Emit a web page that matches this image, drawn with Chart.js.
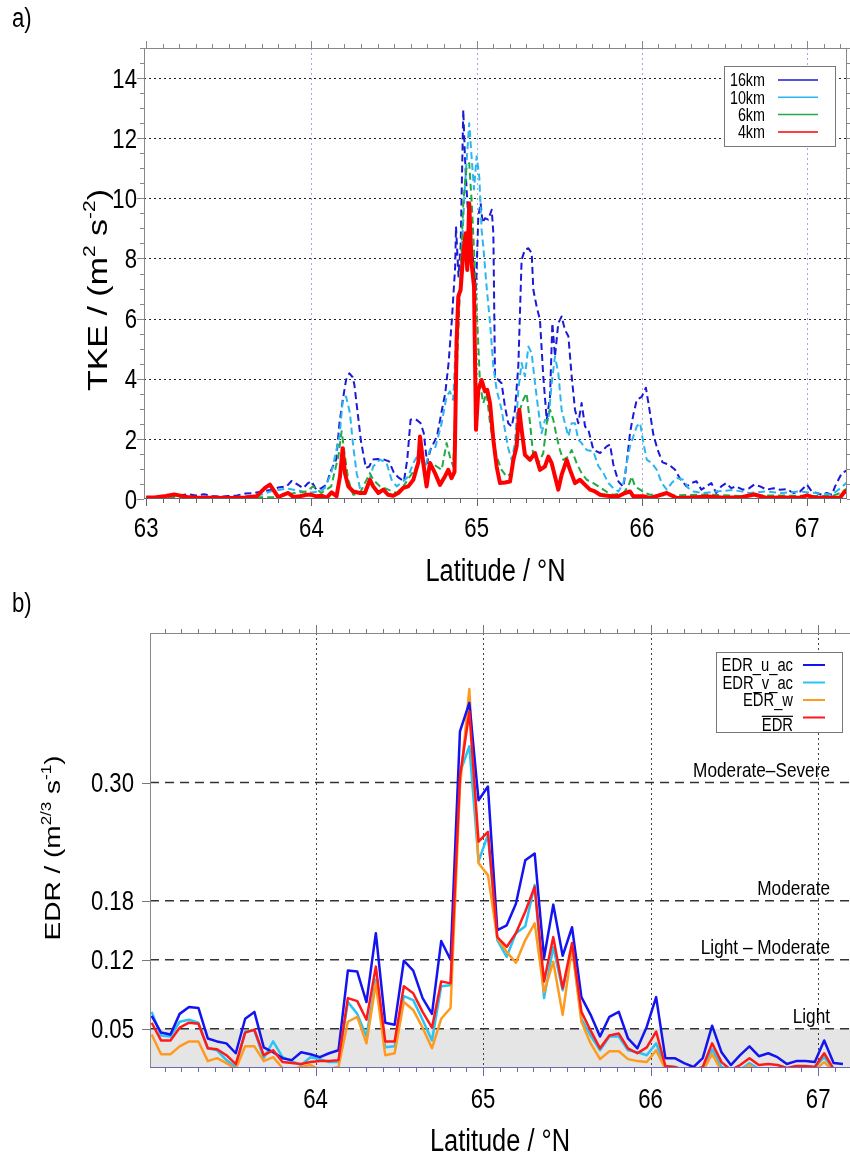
<!DOCTYPE html>
<html>
<head>
<meta charset="utf-8">
<script src="https://cdn.jsdelivr.net/npm/chart.js@4.4.0/dist/chart.umd.min.js"></script>
<style>
  body { margin: 0; background: #fff; }
  #wrap { position: relative; width: 850px; height: 1155px; }
  canvas { position: absolute; left: 0; }
  #chartA { top: 0; }
  #chartB { top: 590px; }
  .panel { position: absolute; left: 12px; font: 27px 'Liberation Sans', sans-serif; color: #000;
           transform: scale(0.82, 1); transform-origin: left top; }
</style>
</head>
<body>
<div id="wrap">
  <canvas id="chartA" width="850" height="590"></canvas>
  <canvas id="chartB" width="850" height="565"></canvas>
  <div class="panel" style="top:3px">a)</div>
  <div class="panel" style="top:588px">b)</div>
</div>
<script>
const FONT = "'Liberation Sans', Arial, sans-serif";
const SQ = 0.82; // the figure text is narrow, squeeze glyphs across

// ---- a) TKE along the flight track, one series per filter length
const lat16 = [63.00,63.10,63.20,63.25,63.30,63.35,63.40,63.45,63.50,63.55,63.60,63.65,63.70,63.75,63.80,63.85,63.88,63.92,63.95,63.98,
  64.00,64.03,64.06,64.09,64.12,64.15,64.17,64.19,64.21,64.23,64.25,64.26,64.28,64.30,64.33,64.35,64.37,64.40,64.44,64.47,
  64.50,64.53,64.56,64.58,64.60,64.63,64.66,64.68,64.70,64.72,64.76,64.79,64.81,64.83,64.85,64.87,64.875,64.89,64.903,64.919,
  64.929,64.939,64.949,64.963,64.980,64.996,65.010,65.024,65.036,65.050,65.070,65.091,65.101,65.111,65.131,65.151,65.171,65.191,65.212,65.232,
  65.252,65.272,65.292,65.313,65.333,65.343,65.363,65.383,65.403,65.424,65.444,65.458,65.474,65.494,65.514,65.534,65.555,65.575,65.595,65.615,
  65.635,65.656,65.676,65.706,65.747,65.787,65.807,65.827,65.858,65.888,65.908,65.928,65.948,65.969,65.999,66.024,66.045,66.069,66.095,66.125,
  66.165,66.201,66.231,66.27,66.30,66.33,66.36,66.39,66.42,66.45,66.48,66.51,66.54,66.57,66.61,66.65,66.68,66.715,66.755,66.796,
  66.836,66.877,66.917,66.957,66.998,67.028,67.058,67.088,67.118,67.149,67.169,67.189,67.21,67.24];
const tke16 = [0.05,0.08,0.12,0.16,0.12,0.16,0.10,0.08,0.10,0.12,0.18,0.20,0.25,0.30,0.38,0.42,0.60,0.47,0.36,0.53,
  0.59,0.31,0.36,0.47,0.97,1.31,2.53,3.30,3.97,4.18,4.05,3.80,2.86,1.92,1.03,1.08,1.31,1.33,1.31,1.25,
  0.86,0.70,0.59,1.31,2.64,2.66,2.53,2.19,1.20,1.64,2.08,2.97,3.52,4.52,5.96,7.73,9.06,7.40,8.40,12.94,
  11.40,10.30,9.40,8.73,7.85,6.96,9.40,9.84,9.18,9.34,9.29,9.62,8.84,4.08,3.96,3.85,3.08,2.52,2.41,2.97,
  4.41,7.96,8.29,8.34,8.18,6.96,6.40,5.96,4.08,2.63,3.41,5.85,4.74,5.85,6.07,5.63,5.41,4.08,2.97,2.52,
  3.19,2.41,2.30,1.64,1.53,1.75,1.81,1.15,0.58,0.40,1.20,2.20,2.80,3.30,3.40,3.70,3.00,2.15,1.64,1.22,
  1.14,0.97,0.67,0.42,0.53,0.59,0.31,0.42,0.53,0.20,0.42,0.53,0.36,0.42,0.31,0.36,0.48,0.42,0.31,0.36,
  0.31,0.33,0.20,0.25,0.48,0.25,0.20,0.14,0.20,0.14,0.42,0.64,0.86,0.95];

const lat10 = [63.00,63.20,63.40,63.60,63.70,63.75,63.80,63.85,63.90,63.95,64.00,64.05,64.08,64.12,64.17,64.19,64.21,64.233,64.253,64.274,
  64.294,64.334,64.374,64.415,64.455,64.485,64.516,64.556,64.586,64.617,64.657,64.687,64.717,64.748,64.778,64.788,64.818,64.838,64.858,64.879,
  64.899,64.929,64.955,64.969,64.984,65.000,65.016,65.030,65.040,65.060,65.081,65.101,65.121,65.151,65.171,65.191,65.212,65.232,65.252,65.272,
  65.292,65.313,65.333,65.353,65.373,65.393,65.413,65.434,65.454,65.474,65.494,65.514,65.534,65.555,65.575,65.595,65.615,65.635,65.666,65.706,
  65.737,65.767,65.797,65.827,65.858,65.888,65.908,65.928,65.948,65.969,65.989,66.009,66.029,66.059,66.090,66.120,66.150,66.180,66.211,66.251,
  66.281,66.312,66.372,66.45,66.55,66.65,66.75,66.85,66.95,67.05,67.15,67.20,67.24];
const tke10 = [0.05,0.06,0.05,0.08,0.15,0.25,0.30,0.35,0.30,0.25,0.22,0.25,0.35,0.86,2.08,3.30,3.41,2.86,1.75,0.86,
  0.36,0.31,1.08,1.31,1.20,0.64,0.42,0.59,0.75,1.20,1.58,1.03,1.64,1.69,2.30,2.52,3.41,3.58,3.30,5.85,
  7.00,10.40,12.50,11.40,10.30,11.40,10.70,8.95,8.40,7.07,5.85,4.41,3.63,2.97,2.30,1.69,1.30,1.86,3.63,4.52,
  4.08,5.07,4.85,3.85,2.97,2.19,2.63,2.60,3.85,4.74,4.19,2.97,2.52,2.08,2.52,2.52,1.97,1.86,1.63,1.58,
  1.09,0.86,0.53,0.36,0.25,0.53,1.20,1.75,2.08,2.42,2.53,1.86,1.31,1.20,0.97,0.53,0.31,0.53,0.70,0.64,
  0.36,0.25,0.20,0.25,0.30,0.20,0.25,0.20,0.25,0.20,0.15,0.35,0.55];

const lat6 = [63.00,63.40,63.80,63.85,63.90,63.97,64.01,64.06,64.12,64.163,64.183,64.203,64.223,64.253,64.294,64.354,64.374,64.415,64.465,64.516,
  64.556,64.596,64.637,64.667,64.697,64.727,64.758,64.788,64.818,64.838,64.858,64.879,64.899,64.919,64.939,64.955,64.969,64.984,65.000,65.020,
  65.040,65.060,65.081,65.101,65.121,65.151,65.181,65.212,65.242,65.262,65.282,65.302,65.323,65.343,65.373,65.403,65.424,65.444,65.464,65.484,
  65.504,65.524,65.555,65.575,65.605,65.635,65.666,65.706,65.737,65.767,65.797,65.827,65.888,65.918,65.938,65.958,65.989,66.019,66.049,66.20,
  66.40,66.60,66.80,67.00,67.15,67.20,67.24];
const tke6 = [0.04,0.05,0.06,0.15,0.20,0.25,0.42,0.20,0.42,1.42,2.25,1.42,0.64,0.14,0.20,0.86,0.64,0.42,0.31,0.20,
  0.42,0.75,1.08,1.31,0.81,1.20,1.08,0.97,1.86,1.41,1.08,4.19,6.96,9.84,11.06,11.17,9.95,8.29,6.40,3.85,
  3.19,3.52,2.52,1.86,1.41,0.97,0.75,0.86,2.08,2.97,3.30,3.52,2.52,1.41,1.19,1.52,2.52,2.97,2.63,2.08,
  1.63,1.30,1.41,1.63,1.19,0.86,0.64,0.53,0.42,0.31,0.20,0.14,0.20,0.42,0.75,0.42,0.31,0.20,0.14,0.12,
  0.15,0.10,0.12,0.10,0.10,0.20,0.35];

const lat4 = [63.00,63.05,63.12,63.17,63.20,63.25,63.30,63.40,63.50,63.60,63.668,63.719,63.749,63.769,63.799,63.830,63.860,63.890,63.930,63.970,
  64.001,64.031,64.062,64.092,64.122,64.152,64.173,64.189,64.203,64.223,64.253,64.294,64.324,64.354,64.374,64.405,64.435,64.465,64.495,64.526,
  64.556,64.586,64.617,64.647,64.657,64.677,64.697,64.717,64.748,64.778,64.808,64.828,64.848,64.866,64.879,64.889,64.903,64.919,64.933,64.943,
  64.955,64.969,64.984,64.996,65.010,65.030,65.050,65.064,65.081,65.101,65.121,65.141,65.171,65.202,65.222,65.242,65.258,65.272,65.292,65.323,
  65.353,65.383,65.413,65.434,65.454,65.474,65.494,65.514,65.545,65.565,65.595,65.625,65.656,65.686,65.716,65.747,65.777,65.817,65.858,65.898,
  65.928,65.948,66.009,66.049,66.150,66.211,66.30,66.40,66.50,66.60,66.68,66.75,66.85,66.95,67.00,67.05,67.15,67.20,67.22,67.24];
const tke4 = [0.05,0.05,0.10,0.15,0.12,0.07,0.05,0.04,0.03,0.05,0.09,0.37,0.48,0.31,0.06,0.14,0.20,0.07,0.09,0.14,
  0.14,0.09,0.11,0.04,0.22,0.09,0.75,1.69,0.86,0.42,0.25,0.20,0.20,0.64,0.42,0.20,0.31,0.14,0.11,0.20,
  0.37,0.42,0.64,1.22,2.08,1.20,0.42,1.20,0.86,0.47,0.75,0.97,0.69,0.90,5.30,6.74,6.96,8.18,8.84,7.62,
  9.84,7.85,7.07,2.30,3.63,3.96,3.58,3.63,3.19,1.97,1.08,0.53,0.55,0.58,1.30,1.75,2.97,2.30,1.47,1.30,
  1.53,0.97,1.08,1.41,1.19,0.75,0.31,0.80,1.30,0.97,0.53,0.64,0.47,0.31,0.25,0.14,0.12,0.09,0.09,0.20,
  0.25,0.09,0.09,0.03,0.20,0.03,0.05,0.08,0.04,0.06,0.15,0.04,0.05,0.04,0.12,0.04,0.04,0.05,0.20,0.28];

const tkeLabels = ['16km', '10km', '6km', '4km'];
const tkeTicks = [0, 2, 4, 6, 8, 10, 12, 14];
const latTicksA = [63, 64, 65, 66, 67];

// ---- b) EDR from the three wind components and their mean
const latEdr = [63.022,63.078,63.134,63.189,63.245,63.301,63.357,63.412,63.468,63.524,63.580,63.635,63.691,63.747,63.803,63.858,63.914,63.970,64.026,64.081,
  64.137,64.193,64.249,64.304,64.360,64.416,64.472,64.527,64.583,64.639,64.695,64.750,64.806,64.862,64.918,64.973,65.029,65.085,65.141,65.196,
  65.252,65.308,65.364,65.419,65.475,65.531,65.587,65.642,65.698,65.754,65.810,65.865,65.921,65.977,66.033,66.088,66.144,66.200,66.256,66.311,
  66.367,66.423,66.479,66.534,66.590,66.646,66.702,66.757,66.813,66.869,66.925,66.980,67.036,67.092,67.148];
const edrU = [0.063,0.046,0.044,0.065,0.072,0.071,0.040,0.037,0.035,0.025,0.060,0.067,0.031,0.026,0.020,0.018,0.026,0.024,0.021,0.025,
  0.028,0.109,0.108,0.077,0.147,0.056,0.054,0.119,0.109,0.081,0.065,0.139,0.120,0.352,0.381,0.282,0.296,0.150,0.155,0.177,
  0.221,0.228,0.122,0.176,0.124,0.153,0.082,0.064,0.042,0.062,0.067,0.040,0.030,0.052,0.082,0.020,0.020,0.015,0.011,0.020,
  0.053,0.026,0.013,0.023,0.032,0.022,0.025,0.021,0.014,0.017,0.017,0.016,0.038,0.015,0.014];
const edrV = [0.067,0.043,0.042,0.057,0.059,0.056,0.030,0.028,0.018,0.011,0.047,0.048,0.020,0.037,0.021,0.017,0.013,0.021,0.019,0.016,
  0.016,0.077,0.065,0.042,0.100,0.031,0.032,0.083,0.079,0.059,0.038,0.093,0.094,0.310,0.337,0.220,0.247,0.140,0.123,0.147,
  0.154,0.196,0.081,0.133,0.089,0.133,0.060,0.043,0.028,0.042,0.042,0.028,0.026,0.023,0.035,0.011,0.011,0.008,0.008,0.009,
  0.029,0.011,0.008,0.008,0.015,0.009,0.009,0.009,0.009,0.011,0.011,0.011,0.021,0.009,0.008];
const edrW = [0.044,0.024,0.024,0.032,0.037,0.037,0.017,0.020,0.015,0.009,0.032,0.032,0.017,0.021,0.010,0.009,0.011,0.013,0.008,0.009,
  0.011,0.057,0.062,0.035,0.096,0.023,0.025,0.077,0.069,0.051,0.030,0.060,0.071,0.296,0.395,0.218,0.206,0.142,0.128,0.117,
  0.140,0.157,0.087,0.118,0.064,0.133,0.057,0.035,0.019,0.027,0.027,0.019,0.017,0.016,0.028,0.009,0.007,0.006,0.006,0.007,
  0.024,0.007,0.006,0.007,0.013,0.007,0.007,0.007,0.007,0.008,0.008,0.008,0.016,0.007,0.006];
const edrMean = [0.056,0.038,0.038,0.051,0.056,0.055,0.030,0.029,0.023,0.014,0.046,0.049,0.023,0.028,0.016,0.015,0.014,0.016,0.017,0.017,
  0.018,0.081,0.078,0.059,0.113,0.037,0.037,0.093,0.086,0.067,0.051,0.098,0.096,0.306,0.372,0.240,0.250,0.143,0.133,0.147,
  0.169,0.194,0.098,0.143,0.091,0.137,0.067,0.048,0.030,0.043,0.045,0.030,0.025,0.031,0.047,0.012,0.011,0.008,0.008,0.011,
  0.035,0.016,0.008,0.013,0.020,0.013,0.014,0.013,0.010,0.012,0.012,0.011,0.025,0.009,0.008];

const edrLabels = ['EDR_u_ac', 'EDR_v_ac', 'EDR_w', 'EDR'];
const edrLevels = [0.05, 0.12, 0.18, 0.30];
const levelNames = ['Light', 'Light \u2013 Moderate', 'Moderate', 'Moderate\u2013Severe'];
const latTicksB = [64, 65, 66, 67];

const A_MIN = 62.987, A_MAX = 67.241;
const B_MIN = 63.012, B_MAX = 67.19;

function pts(xs, ys) {
  return xs.map(function (x, i) { return { x: x, y: ys[i] }; });
}

function line(ctx, x1, y1, x2, y2) {
  ctx.beginPath();
  ctx.moveTo(x1, y1);
  ctx.lineTo(x2, y2);
  ctx.stroke();
}

// narrow text: baseline at y, squeezed across
function sqText(ctx, str, x, y, size, align) {
  ctx.save();
  ctx.translate(x, y);
  ctx.scale(SQ, 1);
  ctx.font = size + 'px ' + FONT;
  ctx.textAlign = align;
  ctx.textBaseline = 'alphabetic';
  ctx.fillText(str, 0, 0);
  ctx.restore();
}

// tick positions between min and max for a given step
function steps(min, max, step) {
  const out = [];
  if (!step) return out;
  for (let k = Math.ceil(min / step - 1e-6); k * step <= max + 1e-9; k++) out.push(+(k * step).toFixed(4));
  return out;
}

function near(list, v) {
  return list.some(function (m) { return Math.abs(m - v) < 1e-6; });
}

// grid lines, outward tick marks and the frame
const framePlugin = {
  id: 'frame',
  beforeDatasetsDraw(chart, args, o) {
    const ctx = chart.ctx, a = chart.chartArea, x = chart.scales.x, y = chart.scales.y;
    ctx.save();
    ctx.lineWidth = 1;
    ctx.setLineDash(o.gridDash);
    ctx.strokeStyle = o.xGridColor;
    o.xGrid.forEach(function (v) {
      const p = Math.round(x.getPixelForValue(v)) + 0.5;
      line(ctx, p, a.top, p, a.bottom);
    });
    ctx.strokeStyle = o.yGridColor;
    o.yGrid.forEach(function (v) {
      const p = Math.round(y.getPixelForValue(v)) + 0.5;
      line(ctx, a.left, p, a.right, p);
    });
    ctx.restore();
  },
  afterDatasetsDraw(chart, args, o) {
    const ctx = chart.ctx, a = chart.chartArea, x = chart.scales.x, y = chart.scales.y;
    ctx.save();
    ctx.lineWidth = 1;
    const xs = steps(x.min, x.max, o.xMinor).concat(o.xMajor);
    xs.forEach(function (v) {
      if (v < x.min || v > x.max) return;
      const p = Math.round(x.getPixelForValue(v)) + 0.5;
      const len = near(o.xMajor, v) ? o.majorLen : o.minorLen;
      ctx.strokeStyle = o.bottomColor;
      line(ctx, p, a.bottom, p, a.bottom + len);
      ctx.strokeStyle = o.tickColor;
      line(ctx, p, a.top, p, a.top - len);
    });
    const ys = steps(y.min, y.max, o.yMinor).concat(o.yMajor);
    ctx.strokeStyle = o.tickColor;
    ys.forEach(function (v) {
      if (v < y.min || v > y.max) return;
      const p = Math.round(y.getPixelForValue(v)) + 0.5;
      const len = near(o.yMajor, v) ? o.majorLen : o.minorLen;
      line(ctx, a.left, p, a.left - len, p);
      if (o.rightSide) line(ctx, a.right, p, a.right + len, p);
    });
    ctx.strokeStyle = o.borderColor;
    line(ctx, a.left + 0.5, a.bottom, a.left + 0.5, a.top);
    line(ctx, a.left, a.top + 0.5, a.right, a.top + 0.5);
    if (o.rightSide) line(ctx, a.right - 0.5, a.top, a.right - 0.5, a.bottom);
    ctx.strokeStyle = o.bottomColor;
    line(ctx, a.left, a.bottom - 0.5, a.right, a.bottom - 0.5);
    ctx.restore();
  }
};

// tick labels and the x title, in the narrow face
const axisTextPlugin = {
  id: 'axisText',
  afterDraw(chart, args, o) {
    const ctx = chart.ctx, a = chart.chartArea, x = chart.scales.x, y = chart.scales.y;
    const half = o.size * 0.358;
    ctx.save();
    ctx.fillStyle = '#000';
    x.ticks.forEach(function (t) {
      sqText(ctx, String(t.value), x.getPixelForValue(t.value), a.bottom + o.xDown + half, o.size, 'center');
    });
    y.ticks.forEach(function (t) {
      sqText(ctx, t.value.toFixed(o.yDecimals), a.left - o.yGap, y.getPixelForValue(t.value) + half, o.size, 'right');
    });
    sqText(ctx, o.title, (a.left + a.right) / 2, a.bottom + o.titleDown + o.titleSize * 0.358, o.titleSize, 'center');
    ctx.restore();
  }
};

// boxed legend: label on the left, line sample on the right
const boxLegendPlugin = {
  id: 'boxLegend',
  afterDraw(chart, args, o) {
    const ctx = chart.ctx, a = chart.chartArea;
    const left = a.right - o.right - o.width, top = a.top + o.top;
    ctx.save();
    ctx.fillStyle = '#fff';
    ctx.fillRect(left, top, o.width, o.height);
    ctx.strokeStyle = '#777';
    ctx.lineWidth = 1;
    ctx.strokeRect(left + 0.5, top + 0.5, o.width, o.height);
    chart.data.datasets.filter(function (d) { return d.inLegend; }).forEach(function (d, i) {
      const ry = top + o.first + i * o.rowH;
      const ty = ry + (d.overline ? o.overShift : 0) + o.size * 0.358;
      ctx.fillStyle = '#000';
      sqText(ctx, d.label, left + o.textX, ty, o.size, 'right');
      if (d.overline) {
        ctx.font = o.size + 'px ' + FONT;
        const w = ctx.measureText(d.label).width * SQ;
        const oy = ty - o.size * 0.84;
        ctx.strokeStyle = '#000';
        ctx.lineWidth = 1.2;
        line(ctx, left + o.textX - w, oy, left + o.textX, oy);
      }
      ctx.strokeStyle = d.borderColor;
      ctx.lineWidth = o.lineW;
      line(ctx, left + o.lineX0, ry, left + o.lineX1, ry);
    });
    ctx.restore();
  }
};

// rotated y title with superscripts
const yTitlePlugin = {
  id: 'ytitle',
  afterDraw(chart, args, o) {
    const ctx = chart.ctx;
    const big = o.size, small = Math.round(o.size * 0.62);
    ctx.save();
    ctx.translate(o.x, o.y);
    ctx.rotate(-Math.PI / 2);
    ctx.scale(1, SQ);
    ctx.fillStyle = '#000';
    ctx.textAlign = 'left';
    ctx.textBaseline = 'alphabetic';
    let w = 0;
    o.parts.forEach(function (p) {
      ctx.font = (p[1] ? small : big) + 'px ' + FONT;
      w += ctx.measureText(p[0]).width;
    });
    let cx = -w / 2;
    o.parts.forEach(function (p) {
      ctx.font = (p[1] ? small : big) + 'px ' + FONT;
      ctx.fillText(p[0], cx, p[1] ? big * 0.358 - big * 0.42 : big * 0.358);
      cx += ctx.measureText(p[0]).width;
    });
    ctx.restore();
  }
};

// names written above the EDR threshold lines
const levelPlugin = {
  id: 'levels',
  afterDatasetsDraw(chart, args, o) {
    if (!o.values) return;
    const ctx = chart.ctx, a = chart.chartArea, y = chart.scales.y;
    ctx.save();
    ctx.fillStyle = '#000';
    o.values.forEach(function (v, i) {
      sqText(ctx, o.names[i], a.right - o.inset, y.getPixelForValue(v) - o.lift, o.size, 'right');
    });
    ctx.restore();
  }
};

Chart.register(framePlugin, axisTextPlugin, boxLegendPlugin, yTitlePlugin, levelPlugin);

const hiddenTicks = { display: false };

// ---------- panel a
new Chart(document.getElementById('chartA'), {
  type: 'line',
  data: {
    datasets: [
      { label: tkeLabels[0], data: pts(lat16, tke16), borderColor: '#1a1ad8', borderWidth: 2, borderDash: [7, 4], inLegend: true, order: 4 },
      { label: tkeLabels[1], data: pts(lat10, tke10), borderColor: '#2bb6ee', borderWidth: 2, borderDash: [7, 4], inLegend: true, order: 3 },
      { label: tkeLabels[2], data: pts(lat6, tke6), borderColor: '#22aa44', borderWidth: 2, borderDash: [7, 4], inLegend: true, order: 2 },
      { label: tkeLabels[3], data: pts(lat4, tke4), borderColor: '#ff0000', borderWidth: 4, inLegend: true, order: 1 }
    ]
  },
  options: {
    animation: false,
    responsive: false,
    events: [],
    layout: { padding: { top: 48, right: 3, left: 0, bottom: 0 } },
    elements: { point: { radius: 0 }, line: { tension: 0, borderJoinStyle: 'round' } },
    scales: {
      x: {
        type: 'linear', min: A_MIN, max: A_MAX,
        afterBuildTicks: function (s) { s.ticks = latTicksA.map(function (v) { return { value: v }; }); },
        afterFit: function (s) { s.height = 91; },
        grid: { display: false, drawTicks: false },
        border: { display: false },
        ticks: hiddenTicks
      },
      y: {
        type: 'linear', min: 0, max: 15,
        afterBuildTicks: function (s) { s.ticks = tkeTicks.map(function (v) { return { value: v }; }); },
        afterFit: function (s) { s.width = 144; },
        grid: { display: false, drawTicks: false },
        border: { display: false },
        ticks: hiddenTicks
      }
    },
    plugins: {
      legend: { display: false },
      tooltip: { enabled: false },
      frame: {
        xGrid: latTicksA.slice(1), yGrid: tkeTicks.slice(1),
        xGridColor: '#a8a8d8', yGridColor: '#222', gridDash: [2, 3],
        xMinor: 0.1, xMajor: latTicksA, yMinor: 0.5, yMajor: tkeTicks,
        majorLen: 7, minorLen: 4, tickColor: '#888', borderColor: '#888', bottomColor: '#666', rightSide: true
      },
      axisText: { size: 27, xDown: 28, yGap: 7, yDecimals: 0, title: 'Latitude / \u00b0N', titleSize: 31, titleDown: 71 },
      boxLegend: { right: 12, top: 18, width: 111, height: 80, first: 14, rowH: 17.3, textX: 41, lineX0: 54, lineX1: 94, size: 17.5, lineW: 1.5, overShift: 0 },
      ytitle: { x: 97, y: 290, size: 34, parts: [['TKE / (m', 0], ['2', 1], [' s', 0], ['-2', 1], [')', 0]] },
      levels: {}
    }
  }
});

// ---------- panel b
const levelSets = edrLevels.map(function (v, i) {
  return {
    data: [{ x: B_MIN, y: v }, { x: B_MAX, y: v }],
    borderColor: '#333', borderWidth: 1.5, borderDash: [9, 6],
    fill: i === 0 ? 'start' : false, backgroundColor: 'rgba(0,0,0,0.1)', order: 10
  };
});

new Chart(document.getElementById('chartB'), {
  type: 'line',
  data: {
    datasets: levelSets.concat([
      { label: edrLabels[0], data: pts(latEdr, edrU), borderColor: '#1414f0', borderWidth: 2.5, inLegend: true, order: 2 },
      { label: edrLabels[1], data: pts(latEdr, edrV), borderColor: '#29c4f4', borderWidth: 2.5, inLegend: true, order: 4 },
      { label: edrLabels[2], data: pts(latEdr, edrW), borderColor: '#ff9a1e', borderWidth: 2.5, inLegend: true, order: 3 },
      { label: edrLabels[3], data: pts(latEdr, edrMean), borderColor: '#ff1a1a', borderWidth: 2.5, inLegend: true, overline: true, order: 1 }
    ])
  },
  options: {
    animation: false,
    responsive: false,
    events: [],
    layout: { padding: { top: 43, right: 0, left: 0, bottom: 0 } },
    elements: { point: { radius: 0 }, line: { tension: 0, borderJoinStyle: 'round' } },
    scales: {
      x: {
        type: 'linear', min: B_MIN, max: B_MAX,
        afterBuildTicks: function (s) { s.ticks = latTicksB.map(function (v) { return { value: v }; }); },
        afterFit: function (s) { s.height = 87; },
        grid: { display: false, drawTicks: false },
        border: { display: false },
        ticks: hiddenTicks
      },
      y: {
        type: 'linear', min: 0.01, max: 0.452,
        afterBuildTicks: function (s) { s.ticks = edrLevels.map(function (v) { return { value: v }; }); },
        afterFit: function (s) { s.width = 150; },
        grid: { display: false, drawTicks: false },
        border: { display: false },
        ticks: hiddenTicks
      }
    },
    plugins: {
      legend: { display: false },
      tooltip: { enabled: false },
      frame: {
        xGrid: latTicksB, yGrid: [],
        xGridColor: '#444', yGridColor: '#444', gridDash: [2, 3],
        xMinor: 0.1, xMajor: latTicksB, yMinor: 0, yMajor: edrLevels,
        majorLen: 8, minorLen: 4, tickColor: '#777', borderColor: '#888', bottomColor: '#6a6ab0', rightSide: false
      },
      axisText: { size: 27, xDown: 30, yGap: 16, yDecimals: 2, title: 'Latitude / \u00b0N', titleSize: 31, titleDown: 72 },
      boxLegend: { right: 8, top: 19, width: 126, height: 80, first: 13, rowH: 17.5, textX: 77, lineX0: 87, lineX1: 109, size: 18, lineW: 2, overShift: 7.5 },
      ytitle: { x: 52, y: 258, size: 28, parts: [['EDR / (m', 0], ['2/3', 1], [' s', 0], ['-1', 1], [')', 0]] },
      levels: { values: edrLevels, names: levelNames, size: 21, inset: 20, lift: 6 }
    }
  }
});
</script>
</body>
</html>
